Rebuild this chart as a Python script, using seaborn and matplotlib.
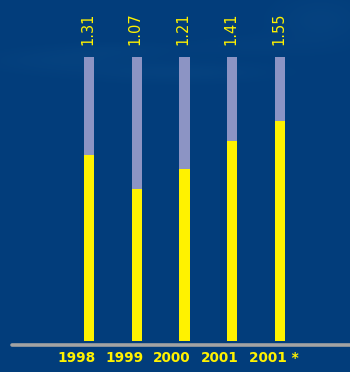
import numpy as np
import pandas as pd
import matplotlib
matplotlib.use("Agg")
import matplotlib.pyplot as plt
import seaborn as sns

# Data
years = ["1998", "1999", "2000", "2001", "2001 *"]
values = [1.31, 1.07, 1.21, 1.41, 1.55]
scale_max = 2.0

BG = "#023d7b"
YELLOW = "#fff200"
LAVENDER = "#8c94c4"
RULE = "#a3a3a3"

sns.set_theme(style="white")
plt.rcParams["font.family"] = ["DejaVu Sans"]

fig = plt.figure(figsize=(3.5, 3.72), dpi=100)
fig.patch.set_facecolor(BG)
ax = fig.add_axes([0, 0, 1, 1])
ax.set_facecolor(BG)

# soft cloudy streaks in the background
h, w = 372, 350
yy, xx = np.mgrid[0:h, 0:w]
haze = np.zeros((h, w))
for cx, cy, sx, sy, a in [(60, 60, 70, 12, 0.10), (180, 72, 90, 10, 0.12),
                          (120, 50, 60, 8, 0.07), (320, 20, 45, 25, 0.12),
                          (250, 45, 60, 10, 0.06)]:
    haze += a * np.exp(-(((xx - cx) / sx) ** 2 + ((yy - cy) / sy) ** 2))
haze = np.clip(haze, 0, 1)
base = np.array(matplotlib.colors.to_rgb(BG))
light = np.array([0.12, 0.40, 0.62])
img = base[None, None, :] * (1 - haze[..., None]) + light[None, None, :] * haze[..., None]
ax.imshow(img, extent=[0, 1, 0, 1], transform=ax.transAxes, aspect="auto", zorder=0)

df = pd.DataFrame({"year": years, "value": values,
                   "full": [scale_max] * len(years)})

sns.barplot(data=df, x="year", y="full", color=LAVENDER, width=0.21,
            saturation=1, edgecolor="none", ax=ax, zorder=2)
sns.barplot(data=df, x="year", y="value", color=YELLOW, width=0.21,
            saturation=1, edgecolor="none", ax=ax, zorder=3)

# value labels above each bar
for i, v in enumerate(values):
    ax.text(i - 0.03, scale_max + 0.085, f"{v:.2f}", rotation=90, ha="center",
            va="bottom", color=YELLOW, fontsize=10.5, zorder=4)

# year labels under the rule
for i, y in enumerate(years):
    ax.text(i - 0.655, -0.12, y, ha="left", va="center", color=YELLOW,
            fontsize=9.8, fontweight="bold", zorder=4)

ax.set_xlim(-1.864, 5.466)
ax.set_ylim(-0.218, 2.401)
ax.axhline(-0.025, xmin=12 / 350, xmax=1, color=RULE, lw=2.6, zorder=3)

ax.set_xticks([])
ax.set_yticks([])
ax.set_xlabel("")
ax.set_ylabel("")
for s in ax.spines.values():
    s.set_visible(False)

fig.savefig("out.png", dpi=100, facecolor=BG)
